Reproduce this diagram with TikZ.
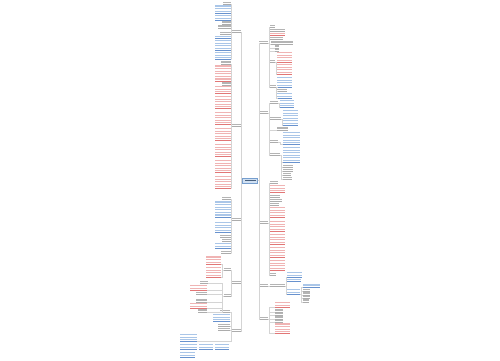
\documentclass[tikz,border=0pt]{standalone}

\definecolor{txtred}{RGB}{240,180,180}
\definecolor{linered}{RGB}{226,118,118}
\definecolor{txtblue}{RGB}{170,198,232}
\definecolor{lineblue}{RGB}{104,146,206}
\definecolor{txtgrey}{RGB}{180,180,180}
\definecolor{linegrey}{RGB}{172,172,172}
\definecolor{edgecol}{RGB}{212,212,212}
\definecolor{rootfill}{RGB}{208,224,242}
\definecolor{rootline}{RGB}{118,158,206}

\tikzset{
  blk/.style={anchor=north west, inner sep=0pt, outer sep=0pt},
  edge/.style={draw=edgecol, line width=0.25bp},
  root/.style={fill=rootfill, draw=rootline, line width=0.4bp, inner sep=0pt,
               minimum width=15bp, minimum height=5bp}
}

% text block: name, x, top y, width, lines, tone
\newcommand\blk[6]{%
  \node[blk, minimum width=#4bp, minimum height=#5*2.6bp+0.6bp] (#1) at (#2,#3) {};
  \foreach \i in {1,...,#5}
    \fill[txt#6] ([yshift=-\i*2.6bp+1.7bp]#1.north west) rectangle ([yshift=-\i*2.6bp+0.6bp]#1.north east);
  \draw[line#6, line width=0.35bp] (#1.south west) -- (#1.south east);
}

\begin{document}
\begin{tikzpicture}[x=1bp,y=-1bp]
  \fill[white] (0,0) rectangle (500,360);
  \useasboundingbox (0,0) rectangle (500,360);
%%
  % Node: root
  \node[root] (root) at (250,180.5) {};
  \fill[rootline!60!black] (244.5,179.9) rectangle (255.5,181.1);
  % Nodes: left branches
  \blk{lA}{232}{28.6}{9}{1}{grey}
  \blk{lB}{232}{123}{9}{1}{grey}
  \blk{lC}{232}{217}{9}{1}{grey}
  \blk{lD}{232}{280}{9}{1}{grey}
  \blk{lE}{232}{328}{9}{1}{grey}
  % Nodes: right branches
  \blk{rA}{259}{40}{9}{1}{grey}
  \blk{rB}{259}{110}{9}{1}{grey}
  \blk{rC}{259}{220}{9}{1}{grey}
  \blk{rD}{259}{283}{9}{1}{grey}
  \blk{rE}{259}{316}{9}{1}{grey}
%
  % Branch lA
  \blk{lA1}{223}{1}{8}{1}{grey}
  \blk{lA2}{215}{4.5}{16}{3}{blue}
  \blk{lA3}{215}{14}{16}{2}{blue}
  \blk{lA4}{222}{20.5}{9}{1}{grey}
  \blk{lA5}{218}{24.5}{13}{1}{grey}
  \blk{lA6}{220}{31}{11}{1}{grey}
  \blk{lA7}{215}{35}{16}{1}{blue}
  \blk{lA8}{215}{39}{16}{4}{blue}
  \blk{lA9}{215}{51}{16}{3}{blue}
  % Branch lB
  \blk{lB1}{221}{60.5}{10}{1}{grey}
  \blk{lB2}{215}{64.5}{16}{6}{red}
  \blk{lB3}{222}{81.5}{9}{1}{grey}
  \blk{lB4}{215}{85}{16}{3}{red}
  \blk{lB5}{215}{95}{16}{5}{red}
  \blk{lB6}{215}{111}{16}{5}{red}
  \blk{lB7}{215}{127}{16}{5}{red}
  \blk{lB8}{215}{143}{16}{5}{red}
  \blk{lB9}{215}{159}{16}{5}{red}
  \blk{lB10}{215}{175}{16}{5}{red}
  % Branch lC
  \blk{lC1}{222}{196}{9}{1}{grey}
  \blk{lC2}{215}{200.5}{16}{6}{blue}
  \blk{lC3}{215}{221}{16}{4}{blue}
  \blk{lC4}{220}{234}{11}{1}{grey}
  \blk{lC5}{222}{238}{9}{1}{grey}
  \blk{lC6}{215}{242}{16}{2}{blue}
  \blk{lC7}{221}{250}{10}{1}{grey}
  % Branch lD
  \blk{lD1}{224}{267}{7}{1}{grey}
  \blk{lD11}{206}{255.5}{15}{3}{red}
  \blk{lD12}{206}{266}{15}{4}{red}
  \blk{lD2}{224}{293}{8}{1}{grey}
  \blk{lD21}{200}{280}{8}{1}{grey}
  \blk{lD22}{190}{284}{17}{2}{red}
  \blk{lD23}{196}{291}{11}{1}{grey}
  \blk{lD24}{196}{298.5}{11}{1}{grey}
  \blk{lD25}{190}{302}{17}{2}{red}
  \blk{lD26}{198}{308.5}{9}{1}{grey}
  % Branch lE
  \blk{lE1}{220}{309}{10}{1}{grey}
  \blk{lE2}{213}{313}{17}{3}{blue}
  \blk{lE3}{218}{323}{12}{1}{grey}
  \blk{lE4}{218}{327}{12}{1}{grey}
  \blk{lE5}{180}{333}{17}{3}{blue}
  \blk{lE6}{180}{343}{17}{2}{blue}
  \blk{lE7}{199}{343}{14}{2}{blue}
  \blk{lE8}{215}{343}{14}{2}{blue}
  \blk{lE9}{180}{351}{15}{2}{blue}
%
  % Branch rA
  \blk{rA1}{270}{24}{5}{1}{grey}
  \blk{rA2}{270}{28}{15}{1}{grey}
  \blk{rA3}{270}{32}{15}{1}{red}
  \blk{rA4}{270}{36}{13}{1}{grey}
  \blk{rA5}{271}{40.5}{22}{1}{grey}
  \blk{rA6}{275}{44.5}{4}{1}{grey}
  \blk{rA7}{275}{48}{4}{1}{grey}
  \blk{rA8}{270}{59}{5}{1}{grey}
  \blk{rA81}{277}{51}{15}{4}{red}
  \blk{rA82}{277}{63}{15}{4}{red}
  \blk{rA9}{270}{84}{6}{1}{grey}
  \blk{rA91}{277}{76}{15}{4}{blue}
  \blk{rA92}{277}{88}{10}{1}{grey}
  \blk{rA93}{277}{92}{15}{2}{blue}
  % Branch rB
  \blk{rB1}{270}{100}{8}{1}{grey}
  \blk{rB11}{280}{99}{14}{3}{blue}
  \blk{rB2}{270}{116}{11}{1}{grey}
  \blk{rB21}{283}{109}{15}{6}{blue}
  \blk{rB3}{277}{126.5}{11}{1}{grey}
  \blk{rB4}{270}{139}{8}{1}{grey}
  \blk{rB41}{283}{131}{17}{5}{blue}
  \blk{rB5}{270}{152}{10}{1}{grey}
  \blk{rB51}{283}{146}{17}{6}{blue}
  \blk{rB52}{283}{164}{10}{1}{grey}
  \blk{rB53}{283}{168}{10}{1}{grey}
  \blk{rB54}{283}{172}{8}{1}{grey}
  \blk{rB55}{283}{176}{9}{1}{grey}
  % Branch rC
  \blk{rC1}{270}{180}{8}{1}{grey}
  \blk{rC2}{270}{184}{15}{3}{red}
  \blk{rC3}{270}{194}{10}{1}{grey}
  \blk{rC4}{270}{198}{12}{1}{grey}
  \blk{rC5}{270}{202}{9}{1}{grey}
  \blk{rC6}{270}{206}{15}{4}{red}
  \blk{rC7}{270}{220}{15}{4}{red}
  \blk{rC8}{270}{233}{15}{4}{red}
  \blk{rC9}{270}{246}{15}{4}{red}
  \blk{rC10}{270}{259}{15}{4}{red}
  \blk{rC11}{270}{272}{6}{1}{grey}
  % Branch rD
  \blk{rD1}{270}{283}{15}{1}{grey}
  \blk{rD11}{287}{271}{15}{2}{blue}
  \blk{rD12}{287}{278}{14}{1}{blue}
  \blk{rD13}{287}{288}{13}{2}{blue}
  \blk{rD131}{303}{283.5}{17}{1}{blue}
  \blk{rD132}{303}{288}{7}{1}{grey}
  \blk{rD133}{303}{291.5}{7}{1}{grey}
  \blk{rD134}{303}{295}{7}{1}{grey}
  \blk{rD135}{303}{298.5}{6}{1}{grey}
  % Branch rE
  \blk{rE1}{275}{301}{15}{2}{red}
  \blk{rE2}{275}{308.5}{8}{1}{grey}
  \blk{rE3}{275}{312}{8}{1}{grey}
  \blk{rE4}{275}{315.5}{8}{1}{grey}
  \blk{rE5}{275}{319}{8}{1}{grey}
  \blk{rE6}{275}{322.5}{15}{4}{red}
%%
  % Edges: root -> branches
  \foreach \c in {lA,lB,lC,lD,lE}
    \draw[edge] (root.west) -- ++(-1,0) |- (\c.south east);
  \foreach \c in {rA,rB,rC,rD,rE}
    \draw[edge] (root.east) -- ++(1,0) |- (\c.south west);
  % Edges: left side
  \foreach \c in {lA1,lA2,lA3,lA4,lA5,lA6,lA7,lA8,lA9}
    \draw[edge] (lA.south west) -- ++(-1,0) |- (\c.south east);
  \foreach \c in {lB1,lB2,lB3,lB4,lB5,lB6,lB7,lB8,lB9,lB10}
    \draw[edge] (lB.south west) -- ++(-1,0) |- (\c.south east);
  \foreach \c in {lC1,lC2,lC3,lC4,lC5,lC6,lC7}
    \draw[edge] (lC.south west) -- ++(-1,0) |- (\c.south east);
  \foreach \c in {lD1,lD2}
    \draw[edge] (lD.south west) -- ++(-1,0) |- (\c.south east);
  \foreach \c in {lD11,lD12}
    \draw[edge] (lD1.south west) -- ++(-1.5,0) |- (\c.south east);
  \foreach \c in {lD21,lD22,lD23,lD24,lD25,lD26}
    \draw[edge] (lD2.south west) -- ++(-2,0) |- (\c.south east);
  \foreach \c in {lE1,lE2,lE3,lE4,lE5}
    \draw[edge] (lE.south west) -- ++(-1,0) |- (\c.south east);
  % Edges: right side
  \foreach \c in {rA1,rA2,rA3,rA4,rA5,rA6,rA7,rA8,rA9}
    \draw[edge] (rA.south east) -- ++(1,0) |- (\c.south west);
  \foreach \c in {rA81,rA82}
    \draw[edge] (rA8.south east) -- ++(1,0) |- (\c.south west);
  \foreach \c in {rA91,rA92,rA93}
    \draw[edge] (rA9.south east) -- ++(0.5,0) |- (\c.south west);
  \foreach \c in {rB1,rB2,rB3,rB4,rB5}
    \draw[edge] (rB.south east) -- ++(1,0) |- (\c.south west);
  \draw[edge] (rB1.south east) -- ++(1,0) |- (rB11.south west);
  \draw[edge] (rB2.south east) -- ++(1,0) |- (rB21.south west);
  \draw[edge] (rB4.south east) -- ++(2,0) |- (rB41.south west);
  \foreach \c in {rB51,rB52,rB53,rB54,rB55}
    \draw[edge] (rB5.south east) -- ++(1,0) |- (\c.south west);
  \foreach \c in {rC1,rC2,rC3,rC4,rC5,rC6,rC7,rC8,rC9,rC10,rC11}
    \draw[edge] (rC.south east) -- ++(1,0) |- (\c.south west);
  \draw[edge] (rD.south east) -- (rD1.south west);
  \foreach \c in {rD11,rD12,rD13}
    \draw[edge] (rD1.south east) -- ++(1,0) |- (\c.south west);
  \foreach \c in {rD131,rD132,rD133,rD134,rD135}
    \draw[edge] (rD13.south east) -- ++(1.5,0) |- (\c.south west);
  \foreach \c in {rE1,rE2,rE3,rE4,rE5,rE6}
    \draw[edge] (rE.south east) -- ++(1,0) |- (\c.south west);
%
\end{tikzpicture}
\end{document}
